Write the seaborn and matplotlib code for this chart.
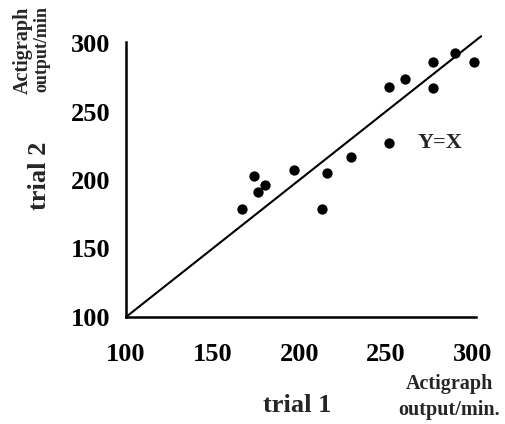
import numpy as np
import pandas as pd
import matplotlib
matplotlib.use("Agg")
import matplotlib.pyplot as plt
import seaborn as sb

# Actigraph output/min, trial 1 vs trial 2
trial1 = [167, 174, 176, 180, 197, 213, 216, 230, 252, 252, 261, 277, 277, 290, 301]
trial2 = [179, 203, 191, 196, 207, 179, 205, 217, 268, 227, 274, 286, 267, 293, 286]
identity = [100, 305]
xticks = [100, 150, 200, 250, 300]
yticks = [100, 150, 200, 250, 300]

df = pd.DataFrame({"trial 1": trial1, "trial 2": trial2})

sb.set_style("white")
plt.rcParams['font.family'] = ['Liberation Serif', 'DejaVu Serif']
plt.rcParams['font.weight'] = 'bold'

fig = plt.figure(figsize=(5.05, 4.24), dpi=100)
ax = fig.add_axes([0.2495, 0.2524, 0.693, 0.6493])

ax.plot(identity, identity, color="black", lw=1.5, clip_on=False, zorder=2)
sb.scatterplot(data=df, x="trial 1", y="trial 2", ax=ax, color="black",
               s=55, edgecolor="black", linewidth=0, clip_on=False, zorder=3)

ax.set_xlim(100, 302)
ax.set_ylim(100, 301)
ax.set_xticks(xticks)
ax.set_yticks(yticks)
ax.set_xticklabels([str(t) for t in xticks], fontsize=19, fontweight='bold')
ax.set_yticklabels([str(t) for t in yticks], fontsize=19, fontweight='bold')
ax.tick_params(axis='x', direction='in', length=4, width=1.2, pad=19, colors='black')
ax.tick_params(axis='y', direction='in', length=4, width=1.2, pad=11, colors='black')
ax.set_xlabel("")
ax.set_ylabel("")

sb.despine(ax=ax)
for side in ["left", "bottom"]:
    ax.spines[side].set_linewidth(1.8)
    ax.spines[side].set_color("black")

ax.text(281, 227, "Y=X", fontsize=16, fontweight='bold', ha='center', va='center')

# axis titles
fig.text(297 / 505, 1 - 405 / 424, "trial 1", fontsize=19, fontweight='bold',
         ha='center', va='center')
fig.text(449 / 505, 1 - 384 / 424, "Actigraph", fontsize=14.5, fontweight='bold',
         ha='center', va='center')
fig.text(449 / 505, 1 - 410 / 424, "output/min.", fontsize=14.5, fontweight='bold',
         ha='center', va='center')

fig.text(40 / 505, 1 - 176 / 424, "trial 2", fontsize=19, fontweight='bold',
         rotation=90, ha='center', va='center')
fig.text(23 / 505, 1 - 94 / 424, "Actigraph", fontsize=14.5, fontweight='bold',
         rotation=90, ha='center', va='bottom')
fig.text(42 / 505, 1 - 92 / 424, "output/min", fontsize=13, fontweight='bold',
         rotation=90, ha='center', va='bottom')

fig.savefig("out.png", dpi=100)
